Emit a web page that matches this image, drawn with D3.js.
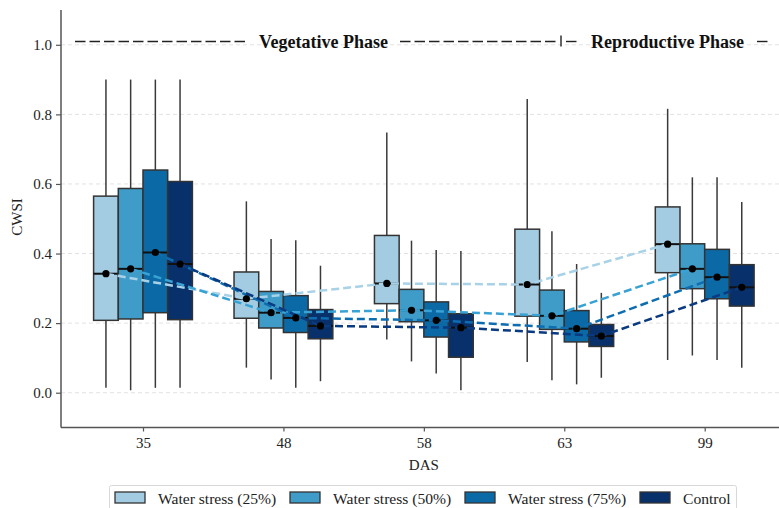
<!DOCTYPE html>
<html>
<head>
<meta charset="utf-8">
<script src="https://cdn.jsdelivr.net/npm/d3@7"></script>
<style>
  body { margin: 0; background: #fff; }
  svg { font-family: "Liberation Serif", "DejaVu Serif", serif; }
</style>
</head>
<body>
<div id="vis"></div>
<script>
// data
const days = ["35", "48", "58", "63", "99"];
const seriesNames = ["Water stress (25%)", "Water stress (50%)", "Water stress (75%)", "Control"];
const colors = ["#a3cce2", "#3f9cc8", "#0b69a6", "#08306b"];
const lineColors = ["#a8d2e8", "#39a2d4", "#0e6db0", "#0a3a80"];
const yTicks = [0.0, 0.2, 0.4, 0.6, 0.8, 1.0];

// [whisker low, q1, median, q3, whisker high] per day, one array per series
const ws25 = [
  [0.014, 0.208, 0.342, 0.565, 0.900],
  [0.072, 0.214, 0.270, 0.347, 0.550],
  [0.153, 0.256, 0.314, 0.452, 0.748],
  [0.088, 0.220, 0.311, 0.470, 0.844],
  [0.094, 0.345, 0.427, 0.534, 0.816]
];
const ws50 = [
  [0.007, 0.212, 0.356, 0.587, 0.900],
  [0.038, 0.186, 0.230, 0.291, 0.442],
  [0.090, 0.204, 0.237, 0.297, 0.437],
  [0.036, 0.182, 0.221, 0.295, 0.464],
  [0.107, 0.299, 0.356, 0.428, 0.619]
];
const ws75 = [
  [0.014, 0.230, 0.403, 0.640, 0.900],
  [0.014, 0.173, 0.215, 0.279, 0.438],
  [0.055, 0.160, 0.208, 0.261, 0.410],
  [0.024, 0.146, 0.184, 0.236, 0.370],
  [0.094, 0.270, 0.332, 0.412, 0.619]
];
const control = [
  [0.014, 0.210, 0.370, 0.607, 0.900],
  [0.033, 0.155, 0.192, 0.239, 0.365],
  [0.007, 0.102, 0.187, 0.227, 0.407],
  [0.043, 0.133, 0.163, 0.196, 0.287],
  [0.072, 0.249, 0.303, 0.368, 0.548]
];
const allSeries = [ws25, ws50, ws75, control];

const W = 779, H = 508;
const plot = {left: 61, right: 779, top: 10, bottom: 427.5};
const boxW = 24.7;

const svg = d3.select('#vis').append('svg')
  .attr('width', W).attr('height', H);

const x = d3.scalePoint().domain(days).range([143, 704.7]);
const y = d3.scaleLinear().domain([-0.1, 1.1]).range([plot.bottom, plot.top]);
const xs = (day, i) => x(day) + (i - 1.5) * boxW;

// grid
svg.append('g').selectAll('line').data(yTicks).join('line')
  .attr('x1', plot.left).attr('x2', plot.right)
  .attr('y1', d => y(d)).attr('y2', d => y(d))
  .attr('stroke', '#e2e2e2').attr('stroke-width', 1)
  .attr('stroke-dasharray', '4,3');

// boxes
allSeries.forEach((ser, i) => {
  const g = svg.append('g');
  ser.forEach((s, j) => {
    const cx = xs(days[j], i);
    g.append('line').attr('x1', cx).attr('x2', cx)
      .attr('y1', y(s[4])).attr('y2', y(s[3]))
      .attr('stroke', '#3a3a3a').attr('stroke-width', 1.5);
    g.append('line').attr('x1', cx).attr('x2', cx)
      .attr('y1', y(s[1])).attr('y2', y(s[0]))
      .attr('stroke', '#3a3a3a').attr('stroke-width', 1.5);
    g.append('rect')
      .attr('x', cx - boxW / 2).attr('width', boxW)
      .attr('y', y(s[3])).attr('height', y(s[1]) - y(s[3]))
      .attr('fill', colors[i]).attr('stroke', '#333').attr('stroke-width', 1.5);
    g.append('line').attr('x1', cx - boxW / 2).attr('x2', cx + boxW / 2)
      .attr('y1', y(s[2])).attr('y2', y(s[2]))
      .attr('stroke', '#111').attr('stroke-width', 2);
  });
});

// dashed trend lines through medians
const line = d3.line().x(d => d[0]).y(d => d[1]);
allSeries.forEach((ser, i) => {
  const pts = ser.map((s, j) => [xs(days[j], i), y(s[2])]);
  svg.append('path').attr('d', line(pts))
    .attr('fill', 'none').attr('stroke', lineColors[i])
    .attr('stroke-width', 2.5).attr('stroke-dasharray', '8,4');
});
allSeries.forEach((ser, i) => {
  svg.append('g').selectAll('circle').data(ser).join('circle')
    .attr('cx', (s, j) => xs(days[j], i)).attr('cy', s => y(s[2]))
    .attr('r', 3.6).attr('fill', '#000');
});

// axes
const yAxis = svg.append('g').attr('transform', `translate(${plot.left},0)`)
  .call(d3.axisLeft(y).tickValues(yTicks).tickFormat(d3.format('.1f')).tickSize(5).tickPadding(4));
yAxis.select('.domain').attr('d', `M0,${plot.top}V${plot.bottom}`);
const xAxis = svg.append('g').attr('transform', `translate(0,${plot.bottom})`)
  .call(d3.axisBottom(x).tickSize(4).tickPadding(6));
xAxis.select('.domain').attr('d', `M${plot.left},0H${plot.right}`);
svg.selectAll('.domain').attr('stroke', '#555').attr('stroke-width', 1.5);
svg.selectAll('.tick line').attr('stroke', '#555').attr('stroke-width', 1.2);
svg.selectAll('.tick text').attr('font-family', '"Liberation Serif", serif')
  .attr('font-size', 15).attr('fill', '#222');

svg.append('text').attr('transform', 'translate(22,217) rotate(-90)')
  .attr('text-anchor', 'middle').attr('font-size', 15).attr('fill', '#222').text('CWSI');
svg.append('text').attr('x', x('58')).attr('y', 470)
  .attr('text-anchor', 'middle').attr('font-size', 15).attr('fill', '#222').text('DAS');

// phase annotation
const phaseY = 41.5;
const dashLines = [[75, 249], [400, 556], [566, 579], [757, 771]];
svg.append('g').selectAll('line').data(dashLines).join('line')
  .attr('x1', d => d[0]).attr('x2', d => d[1])
  .attr('y1', phaseY).attr('y2', phaseY)
  .attr('stroke', '#222').attr('stroke-width', 1.4).attr('stroke-dasharray', '10.5,4');
svg.append('line').attr('x1', 561).attr('x2', 561).attr('y1', phaseY - 6).attr('y2', phaseY + 5)
  .attr('stroke', '#222').attr('stroke-width', 1.4);
svg.append('text').attr('x', 323.5).attr('y', phaseY + 6)
  .attr('text-anchor', 'middle').attr('font-size', 18).attr('font-weight', 'bold')
  .attr('fill', '#111').text('Vegetative Phase');
svg.append('text').attr('x', 667.5).attr('y', phaseY + 6)
  .attr('text-anchor', 'middle').attr('font-size', 18).attr('font-weight', 'bold')
  .attr('fill', '#111').text('Reproductive Phase');

// legend
const legX = [115, 290, 465, 640];
const leg = svg.append('g');
leg.append('rect').attr('x', 109.5).attr('y', 485.5).attr('width', 627).attr('height', 30)
  .attr('fill', '#fff').attr('stroke', '#d8d8d8').attr('rx', 2);
seriesNames.forEach((n, i) => {
  leg.append('rect').attr('x', legX[i]).attr('y', 492).attr('width', 30).attr('height', 11)
    .attr('fill', colors[i]).attr('stroke', '#333').attr('stroke-width', 1.3);
  leg.append('text').attr('x', legX[i] + 43).attr('y', 503.5)
    .attr('font-size', 15.6).attr('fill', '#222').text(n);
});
</script>
</body>
</html>
